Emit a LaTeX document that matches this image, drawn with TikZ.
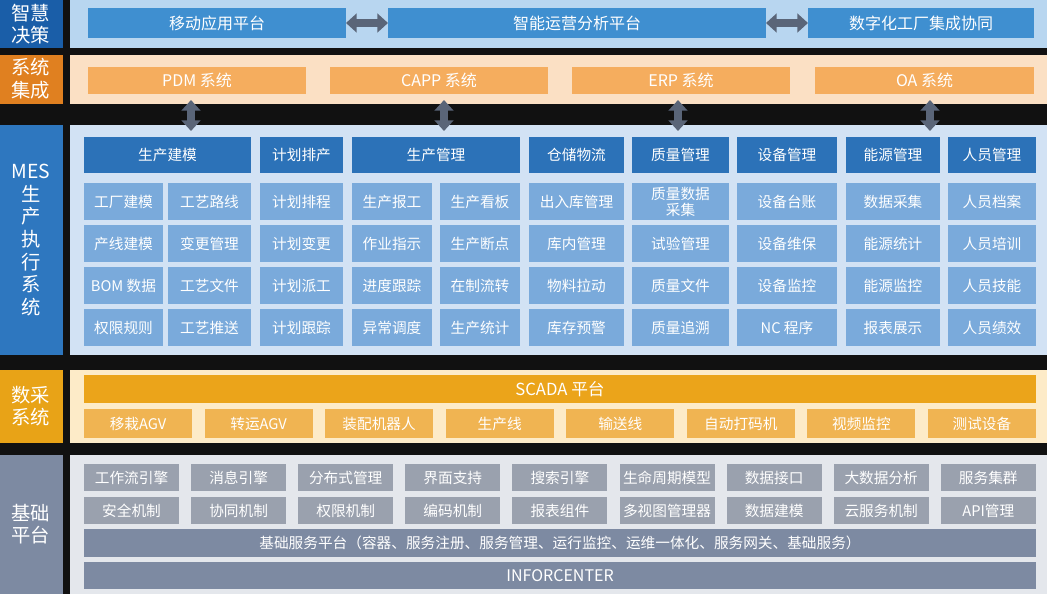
\documentclass[tikz,border=0pt]{standalone}
\usepackage{fontspec}
\setmainfont{Noto Sans CJK SC}
\usetikzlibrary{arrows.meta}
\definecolor{bgk}{HTML}{111111}
\definecolor{l1}{HTML}{1A5EA8}\definecolor{p1}{HTML}{B8D6F0}\definecolor{b1}{HTML}{3F8FD0}
\definecolor{l2}{HTML}{E08020}\definecolor{p2}{HTML}{FBE0C4}\definecolor{b2}{HTML}{F5AD5E}
\definecolor{l3}{HTML}{2E77BF}\definecolor{p3}{HTML}{D2E2F4}\definecolor{h3}{HTML}{2C72B8}\definecolor{c3}{HTML}{7AAADB}
\definecolor{l4}{HTML}{E8A317}\definecolor{p4}{HTML}{FDEBC8}\definecolor{h4}{HTML}{EBA41A}\definecolor{c4}{HTML}{F0B452}
\definecolor{l5}{HTML}{7D8AA2}\definecolor{p5}{HTML}{E4E7EC}\definecolor{c5}{HTML}{9AA1AE}
\definecolor{arr}{HTML}{5A6578}
\tikzset{
 bx/.style={inner sep=0pt,outer sep=0pt,text=white,font=\fontsize{11}{12}\selectfont},
 lab/.style={inner sep=0pt,outer sep=0pt,text=white,font=\fontsize{14.5}{17}\selectfont,align=center},
 dar/.style={arr,line width=6pt,{Triangle[length=8pt,width=14pt]}-{Triangle[length=8pt,width=14pt]}},
}
\begin{document}
\begin{tikzpicture}[x=0.75pt,y=-0.75pt]
\fill[bgk] (0,0) rectangle (1047,594);
\useasboundingbox (0,0) rectangle (1047,594);
% row 1
\fill[l1] (0,0) rectangle (63,48); \node[lab] (L1) at (31,24) {智慧\\决策};
\fill[p1] (70,0) rectangle (1047,48);
\fill[b1] (88,8) rectangle (346,38); \node[bx] (a1) at (217,23) {\fontsize{12}{13}\selectfont 移动应用平台};
\fill[b1] (388,8) rectangle (766,38); \node[bx] (a2) at (577,23) {\fontsize{12}{13}\selectfont 智能运营分析平台};
\fill[b1] (808,8) rectangle (1034,38); \node[bx] (a3) at (921,23) {\fontsize{12}{13}\selectfont 数字化工厂集成协同};
\coordinate (e1) at (346,23); \coordinate (e2) at (388,23); \coordinate (e3) at (766,23); \coordinate (e4) at (808,23);
\draw[dar] (e1) -- (e2); \draw[dar] (e3) -- (e4);
% row 2
\fill[l2] (0,55) rectangle (63,104); \node[lab] (L2) at (31,79) {系统\\集成};
\fill[p2] (70,55) rectangle (1047,104);
\foreach \a/\b/\t/\n in {88/306/PDM 系统/s1,330/548/CAPP 系统/s2,572/790/ERP 系统/s3,815/1034/OA 系统/s4}{
 \fill[b2] (\a,67) rectangle (\b,94); \node[bx] (\n) at ({(\a+\b)/2},80.5) {\fontsize{12}{13}\selectfont\t};}
% row 3
\fill[l3] (0,125) rectangle (63,355); \node[lab] (L3) at (31,240) {MES\\生\\产\\执\\行\\系\\统};
\fill[p3] (70,125) rectangle (1047,355);
\foreach \x/\n in {191/v1,444/v2,678/v3,930/v4}{
 \coordinate (\n t) at (\x,100); \coordinate (\n b) at (\x,131); \draw[dar] (\n t) -- (\n b);}
\foreach \a/\b/\t/\n in {84/251/生产建模/h1,260/343/计划排产/h2,352/520/生产管理/h3,529/624/仓储物流/h4,632/729/质量管理/h5,737/837/设备管理/h6,846/940/能源管理/h7,948/1036/人员管理/h8}{
 \fill[h3] (\a,137) rectangle (\b,173); \node[bx] (\n) at ({(\a+\b)/2},155) {\t};}
\foreach \a/\b/\p/\q/\r/\s/\n in {
 84/163/工厂建模/产线建模/BOM 数据/权限规则/m1,
 168/251/工艺路线/变更管理/工艺文件/工艺推送/m2,
 260/343/计划排程/计划变更/计划派工/计划跟踪/m3,
 352/432/生产报工/作业指示/进度跟踪/异常调度/m4,
 440/520/生产看板/生产断点/在制流转/生产统计/m5,
 529/624/出入库管理/库内管理/物料拉动/库存预警/m6,
 632/729/{质量数据\\采集}/试验管理/质量文件/质量追溯/m7,
 737/837/设备台账/设备维保/设备监控/NC 程序/m8,
 846/940/数据采集/能源统计/能源监控/报表展示/m9,
 948/1036/人员档案/人员培训/人员技能/人员绩效/m10}{
 \fill[c3] (\a,183) rectangle (\b,220); \node[bx,align=center] (\n a) at ({(\a+\b)/2},201.5) {\p};
 \fill[c3] (\a,225) rectangle (\b,262); \node[bx] (\n b) at ({(\a+\b)/2},243.5) {\q};
 \fill[c3] (\a,267) rectangle (\b,304); \node[bx] (\n c) at ({(\a+\b)/2},285.5) {\r};
 \fill[c3] (\a,309) rectangle (\b,346); \node[bx] (\n d) at ({(\a+\b)/2},327.5) {\s};}
% row 4
\fill[l4] (0,370) rectangle (63,443); \node[lab] (L4) at (31,406) {数采\\系统};
\fill[p4] (70,370) rectangle (1047,443);
\fill[h4] (84,375) rectangle (1036,403); \node[bx] (scada) at (560,389) {\fontsize{12.5}{13}\selectfont SCADA\ 平台};
\foreach \i/\t in {0/移栽AGV,1/转运AGV,2/装配机器人,3/生产线,4/输送线,5/自动打码机,6/视频监控,7/测试设备}{
 \pgfmathsetmacro\a{84+\i*120.57}
 \fill[c4] (\a,409) rectangle (\a+108,438); \node[bx] (d\i) at (\a+54,423.5) {\t};}
% row 5
\fill[l5] (0,455) rectangle (63,594); \node[lab] (L5) at (31,524) {基础\\平台};
\fill[p5] (70,455) rectangle (1047,594);
\foreach \i/\t/\u in {0/工作流引擎/安全机制,1/消息引擎/协同机制,2/分布式管理/权限机制,3/界面支持/编码机制,4/搜索引擎/报表组件,5/生命周期模型/多视图管理器,6/数据接口/数据建模,7/大数据分析/云服务机制,8/服务集群/API管理}{
 \pgfmathsetmacro\a{84+\i*107.1}
 \fill[c5] (\a,464) rectangle (\a+95,491); \node[bx] (f\i) at (\a+47.5,477.5) {\t};
 \fill[c5] (\a,497) rectangle (\a+95,524); \node[bx] (g\i) at (\a+47.5,510.5) {\u};}
\fill[l5] (84,529) rectangle (1036,557); \node[bx] (svc) at (560,543) {基础服务平台（容器、服务注册、服务管理、运行监控、运维一体化、服务网关、基础服务）};
\fill[l5] (84,562) rectangle (1036,589); \node[bx] (inf) at (560,575.5) {\fontsize{12}{13}\selectfont INFORCENTER};
\end{tikzpicture}
\end{document}
